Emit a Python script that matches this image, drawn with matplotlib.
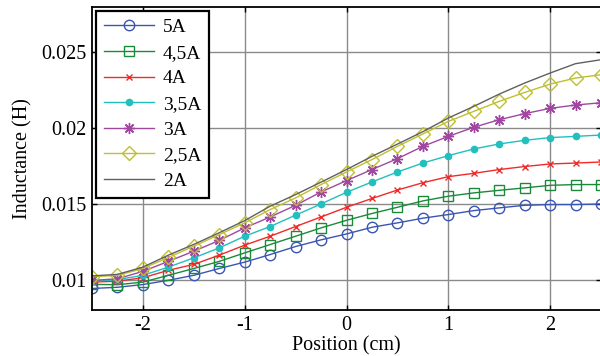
import numpy as np
import matplotlib
matplotlib.use('Agg')
import matplotlib.pyplot as plt
from matplotlib.ticker import FormatStrFormatter

plt.rcParams['font.family'] = 'Liberation Serif'
plt.rcParams['axes.unicode_minus'] = False

pos = [-2.5, -2.25, -2, -1.75, -1.5, -1.25, -1, -0.75, -0.5, -0.25, 0,
       0.25, 0.5, 0.75, 1, 1.25, 1.5, 1.75, 2, 2.25, 2.5]

L_5A = [0.00942, 0.0095, 0.00968, 0.00996, 0.01029, 0.01074, 0.01116, 0.01166, 0.01219, 0.01263, 0.01302,
        0.01346, 0.01375, 0.01406, 0.0143, 0.01456, 0.01474, 0.01491, 0.01496, 0.01496, 0.0150]
L_45A = [0.00969, 0.00967, 0.00984, 0.01029, 0.01074, 0.01121, 0.01177, 0.01232, 0.01287, 0.01342, 0.01392,
         0.01437, 0.01478, 0.0152, 0.01551, 0.01573, 0.0159, 0.01606, 0.01623, 0.01628, 0.01628]
L_4A = [0.00984, 0.0099, 0.01013, 0.01062, 0.01101, 0.01162, 0.01228, 0.01287, 0.01351, 0.01414, 0.01478,
        0.01536, 0.01592, 0.0164, 0.0168, 0.01702, 0.01727, 0.01747, 0.01764, 0.0177, 0.01777]
L_35A = [0.0099, 0.01, 0.01029, 0.01083, 0.01144, 0.0121, 0.01287, 0.01351, 0.01426, 0.015, 0.01577,
         0.01645, 0.01711, 0.0177, 0.01819, 0.01863, 0.01896, 0.0192, 0.01938, 0.01946, 0.01955]
L_3A = [0.00995, 0.01006, 0.01055, 0.01121, 0.01188, 0.01259, 0.01342, 0.01414, 0.01491, 0.01579, 0.01654,
        0.01727, 0.01799, 0.0188, 0.01946, 0.02006, 0.02056, 0.02096, 0.02131, 0.02153, 0.02168]
L_25A = [0.0102, 0.01028, 0.01074, 0.01147, 0.01221, 0.01298, 0.01375, 0.01463, 0.0154, 0.01628, 0.01711,
         0.01793, 0.0188, 0.01962, 0.02045, 0.02111, 0.02177, 0.02236, 0.02291, 0.02331, 0.02353]
L_2A = [0.01025, 0.01035, 0.01083, 0.01162, 0.01233, 0.0131, 0.0139, 0.01485, 0.01562, 0.01644, 0.01727,
        0.01814, 0.01895, 0.01977, 0.02067, 0.02144, 0.02225, 0.02298, 0.02364, 0.02426, 0.02452]

labels = ['5A', '4,5A', '4A', '3,5A', '3A', '2,5A', '2A']
series = [L_5A, L_45A, L_4A, L_35A, L_3A, L_25A, L_2A]
colors = ['#3a55b4', '#1a8a3a', '#f02a2a', '#22bfbf', '#a048a0', '#bfbf30', '#606060']
markers = ['o', 's', 'x', 'o', (8, 2, 0), 'D', None]
msizes = [7.5, 7.5, 4.5, 4.5, 8, 7.5, 0]
mfaces = ['none', 'none', 'none', None, 'none', 'none', 'none']

fig = plt.figure(figsize=(6, 3.56), dpi=100)
ax = fig.add_axes([92/600, 1-310/356, 509/600, 303/356])

for y, lab, c, m, ms, mf in zip(series, labels, colors, markers, msizes, mfaces):
    kw = dict(color=c, lw=1.0, label=lab)
    if m is not None:
        kw.update(marker=m, markersize=ms, markeredgewidth=1.0)
        kw['markerfacecolor'] = c if mf is None else 'none'
    ax.plot(pos, y, **kw)

ax.set_xlim(-2.5, 2.5)
ax.set_ylim(0.008, 0.028)
ax.set_xticks([-2, -1, 0, 1, 2])
ax.set_yticks([0.01, 0.015, 0.02, 0.025])
ax.yaxis.set_major_formatter(FormatStrFormatter('%g'))
ax.grid(True, color='#8a8a8a', lw=1.0)
ax.tick_params(direction='in', length=3.5, width=1.0, top=True, right=True,
               labelsize=14.5, pad=4)
for s in ax.spines.values():
    s.set_linewidth(1.3)

ax.set_xlabel('Position (cm)', fontsize=14.5, labelpad=1)
ax.set_ylabel('Inductance (H)', fontsize=14.5, labelpad=6)

leg = ax.legend(loc='upper left', fontsize=14, handlelength=2.6, labelspacing=0.41,
                borderaxespad=0.2, fancybox=False, framealpha=1, handletextpad=0.45,
                borderpad=0.4)
leg.get_frame().set_edgecolor('black')
leg.get_frame().set_linewidth(1.6)

fig.savefig('out.png', dpi=100)
